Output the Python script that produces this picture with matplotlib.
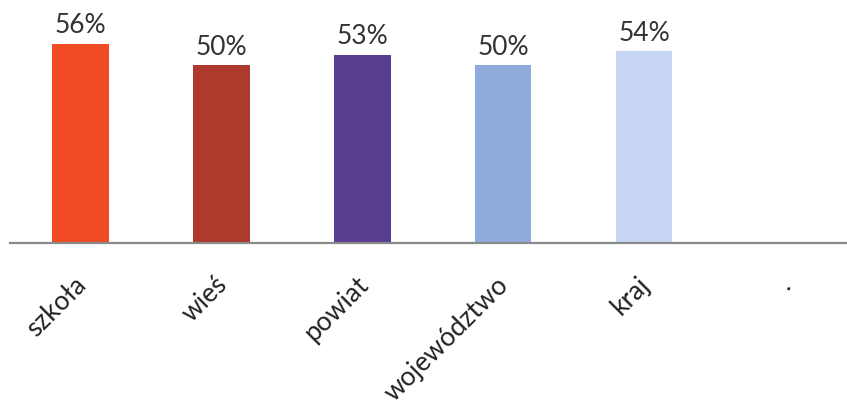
import matplotlib
matplotlib.use('Agg')
import matplotlib.pyplot as plt
import numpy as np

plt.rcParams['font.family'] = ['Lato', 'DejaVu Sans']

categories = ['szkoła', 'wieś', 'powiat', 'województwo', 'kraj', '.']
values = [56, 50, 53, 50, 54]
labels = ['56%', '50%', '53%', '50%', '54%']
colors = ['#f04b23', '#ad3a2c', '#593d8f', '#8fabdc', '#c6d6f4']

fig = plt.figure(figsize=(8.47, 4.11), dpi=100)
ax = fig.add_axes([0.012, 0.409, 0.988, 0.591])

index = np.arange(len(categories))
bars = ax.bar(index[:len(values)], values, 0.4, color=colors, zorder=2)
ax.bar_label(bars, labels=labels, padding=4, fontsize=19, color='#333333')

ax.set_xlim(-0.5, 5.44)
ax.set_ylim(0, 68.4)
ax.set_xticks(index - 0.05)
ax.set_xticklabels(categories, rotation=45, ha='right', va='top',
                   rotation_mode='anchor', fontsize=19, color='#222222')
ax.tick_params(axis='x', length=0, pad=21)
ax.set_yticks([])
for s in ['top', 'right', 'left']:
    ax.spines[s].set_visible(False)
ax.spines['bottom'].set_color('#8a8a8a')
ax.spines['bottom'].set_linewidth(1.6)

fig.savefig('out.png', dpi=100)
